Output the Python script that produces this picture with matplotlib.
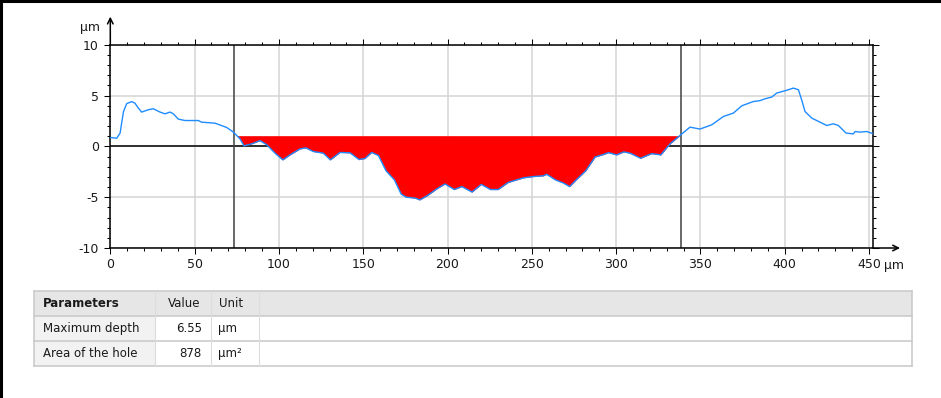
import matplotlib
matplotlib.use('Agg')
import matplotlib.pyplot as plt
from matplotlib.patches import Rectangle
from matplotlib.ticker import MultipleLocator
import numpy as np

# Profile (x in µm, height in µm)
profile_x = [0, 3.8, 5.8, 7.8, 9.7, 12.7, 14.6, 16.5, 18.6, 22.5, 25.5, 29.5, 32.4,
             35.4, 37.4, 40.3, 44.3, 52.2, 54.1, 62.1, 69, 73, 76.9, 79.3, 83.9,
             88.8, 92.8, 97.7, 102.3, 106.6, 112.5, 116, 120.4, 126.3, 130.5, 136.2,
             142.2, 147.5, 151, 155, 159, 163.5, 168.5, 172.5, 175.5, 181, 183.5,
             188, 193.5, 198.5, 204, 208.5, 214.5, 220, 225.5, 230, 236, 245, 251,
             256.8, 258.8, 264, 268.6, 272.4, 276, 282, 287.5, 292.5, 295.5, 300.3,
             304.5, 308.2, 314.5, 321, 326.5, 332, 338.3, 343.8, 349.7, 356.7,
             363.6, 369.5, 374.5, 381.4, 385.3, 388.3, 392.3, 395.2, 400.2, 405.1,
             408.1, 410, 412, 416, 420.9, 424.9, 428.8, 431.8, 436.4, 440.7, 441.7,
             444.7, 448.6, 452.6]
profile_y = [0.87, 0.8, 1.3, 3.4, 4.2, 4.4, 4.25, 3.8, 3.37, 3.6, 3.7, 3.37, 3.2,
             3.37, 3.2, 2.68, 2.54, 2.54, 2.38, 2.28, 1.86, 1.4, 0.74, 0.05, 0.25,
             0.57, 0.15, -0.67, -1.33, -0.84, -0.25, -0.15, -0.51, -0.67, -1.33, -0.6,
             -0.64, -1.3, -1.2, -0.6, -0.9, -2.4, -3.3, -4.7, -5.0, -5.1, -5.27,
             -4.85, -4.2, -3.7, -4.25, -3.96, -4.5, -3.75, -4.25, -4.25, -3.55, -3.1, -2.97,
             -2.9, -2.75, -3.3, -3.6, -3.96, -3.35, -2.4, -1.05, -0.8, -0.62, -0.84,
             -0.55, -0.67, -1.17, -0.72, -0.84, 0.25, 1.13, 1.89, 1.7, 2.12,
             2.94, 3.27, 3.99, 4.41, 4.5, 4.68, 4.85, 5.24, 5.47, 5.73,
             5.57, 4.58, 3.43, 2.78, 2.38, 2.05, 2.22, 2.05, 1.3, 1.23, 1.46,
             1.4, 1.46, 1.23]

hole_bounds = [73.2, 338.3]
hole_level = 1.05

# Result table
param_names = ["Maximum depth", "Area of the hole"]
param_values = ["6.55", "878"]
param_units = ["µm", "µm²"]

plt.rcParams['font.family'] = 'DejaVu Sans'
plt.rcParams['axes.unicode_minus'] = False

W, H = 941, 398
fig = plt.figure(figsize=(W / 100, H / 100), dpi=100)

ax = fig.add_axes([110.3 / W, 1 - 248 / H, 763 / W, 203.3 / H])
px = np.array(profile_x)
py = np.array(profile_y)

ax.fill_between(px, py, hole_level,
                where=(py < hole_level) & (px >= hole_bounds[0]) & (px <= hole_bounds[1]),
                interpolate=True, color='#ff0000', lw=0, zorder=2)
ax.plot(px, py, color='#1e8cff', lw=1.0, zorder=3)
ax.axhline(0, color='black', lw=1.1, zorder=1.5)
for xb in hole_bounds:
    ax.axvline(xb, color='#404040', lw=1.1, zorder=1.5)

ax.set_xlim(0, 452.5)
ax.set_ylim(-10, 10)
ax.xaxis.set_major_locator(MultipleLocator(50))
ax.xaxis.set_minor_locator(MultipleLocator(10))
ax.yaxis.set_major_locator(MultipleLocator(5))
ax.yaxis.set_minor_locator(MultipleLocator(1))
ax.grid(True, which='major', color='#d4d4d4', lw=1.1, zorder=0)
ax.set_axisbelow(True)
ax.tick_params(which='both', direction='out', top=True, right=True,
               labelsize=9, width=0.75, color='black', labelcolor='#1a1a1a')
ax.tick_params(which='major', length=4.2)
ax.tick_params(axis='x', which='major', pad=3)
ax.tick_params(axis='y', which='major', pad=4)
ax.tick_params(which='minor', length=2)
for sp in ax.spines.values():
    sp.set_linewidth(1.1)
ax.set_xticks(np.arange(0, 451, 50))
ax.set_xticklabels([str(v) for v in range(0, 451, 50)])

# axis arrows and units
ax.annotate('', xy=(0, 1.138), xytext=(0, 1.0), xycoords='axes fraction',
            arrowprops=dict(arrowstyle='->', lw=1.1, color='black',
                            shrinkA=0, shrinkB=0), annotation_clip=False)
ax.annotate('', xy=(1.035, 0), xytext=(1.0, 0), xycoords='axes fraction',
            arrowprops=dict(arrowstyle='->', lw=1.1, color='black',
                            shrinkA=0, shrinkB=0), annotation_clip=False)
ax.text(-0.013, 1.087, 'µm', transform=ax.transAxes, ha='right', va='center',
        fontsize=9, color='#1a1a1a')

# overlay in pixel coordinates for the frame, x unit and the table
ov = fig.add_axes([0, 0, 1, 1], zorder=5)
ov.set_xlim(0, W)
ov.set_ylim(H, 0)
ov.axis('off')
ov.patch.set_alpha(0)

ov.plot([0, W], [1, 1], color='black', lw=2.2)
ov.plot([1.2, 1.2], [0, H], color='black', lw=2.2)
ov.text(884, 266, 'µm', ha='left', va='center', fontsize=9, color='#1a1a1a')

col_x = [34, 155, 211, 259, 912]
row_y = [291, 316, 341, 366]
grid_c = '#c8c8c8'

ov.add_patch(Rectangle((col_x[0], row_y[0]), col_x[-1] - col_x[0], row_y[1] - row_y[0],
                       facecolor='#e6e6e6', edgecolor='none'))
for r in range(1, 3):
    ov.add_patch(Rectangle((col_x[0], row_y[r]), col_x[1] - col_x[0], row_y[r + 1] - row_y[r],
                           facecolor='#f2f2f2', edgecolor='none'))
for yy in row_y:
    ov.plot([col_x[0], col_x[-1]], [yy, yy], color=grid_c, lw=1.1)
for xx in [col_x[0], col_x[-1]]:
    ov.plot([xx, xx], [row_y[0], row_y[-1]], color=grid_c, lw=1.1)
for xx in col_x[1:-1]:
    ov.plot([xx, xx], [row_y[0], row_y[-1]], color='#dcdcdc', lw=0.8)

tfs = 8.5
hy = (row_y[0] + row_y[1]) / 2
ov.text(43, hy, 'Parameters', fontweight='bold', fontsize=tfs, ha='left', va='center',
        color='#1a1a1a')
ov.text(200, hy, 'Value', fontsize=tfs, ha='right', va='center', color='#1a1a1a')
ov.text(219, hy, 'Unit', fontsize=tfs, ha='left', va='center', color='#1a1a1a')
for i, (n, v, u) in enumerate(zip(param_names, param_values, param_units)):
    cy = (row_y[i + 1] + row_y[i + 2]) / 2
    ov.text(43, cy, n, fontsize=tfs, ha='left', va='center', color='#1a1a1a')
    ov.text(202, cy, v, fontsize=tfs, ha='right', va='center', color='#1a1a1a')
    ov.text(218, cy, u, fontsize=tfs, ha='left', va='center', color='#1a1a1a')

fig.savefig('out.png', dpi=100)
